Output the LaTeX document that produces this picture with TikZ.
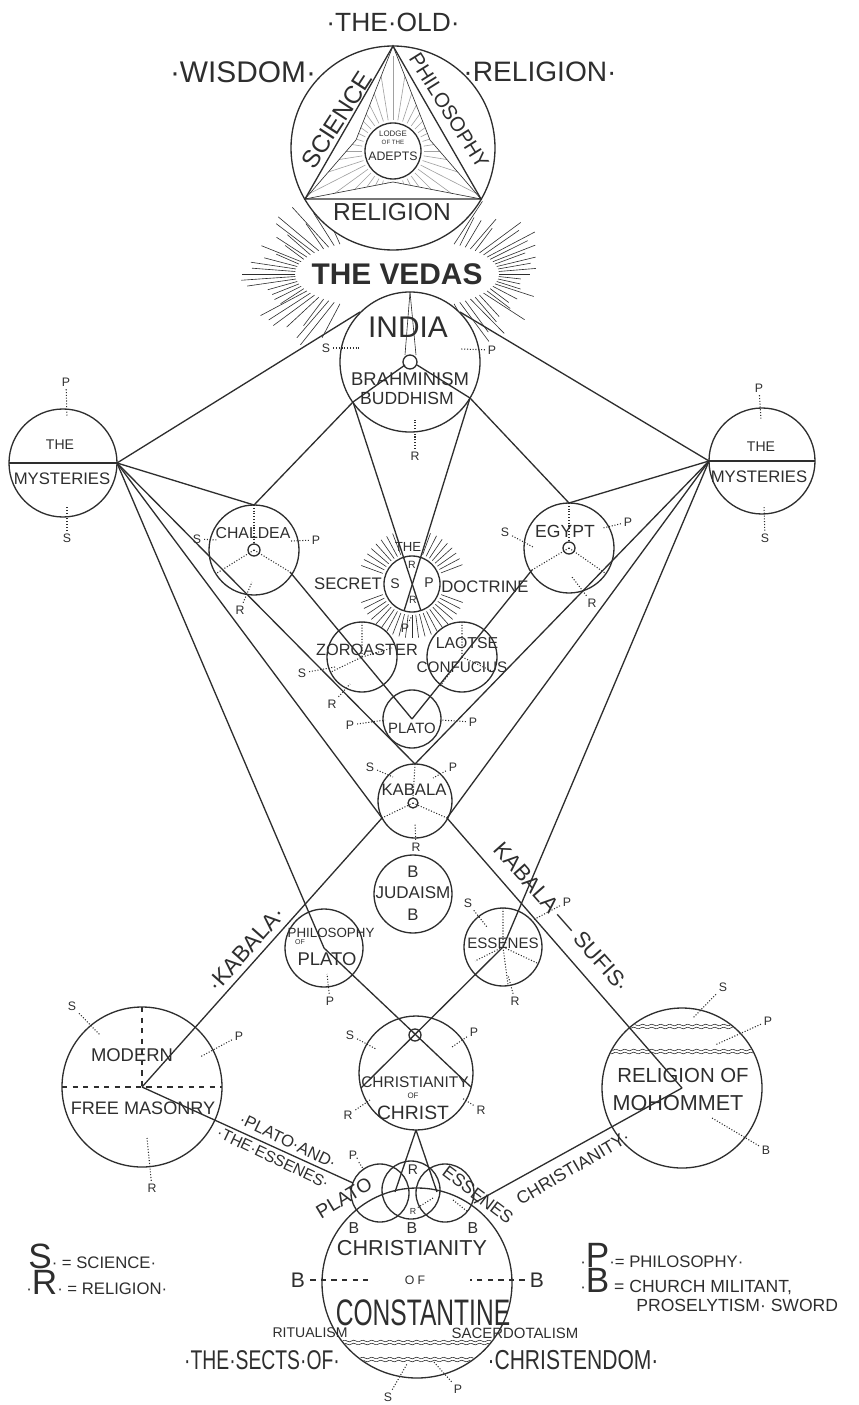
\documentclass[tikz,border=0pt]{standalone}
\usepackage{fontspec}
\setmainfont{Liberation Sans}
\usetikzlibrary{calc}
\definecolor{ink}{gray}{0.18}
\newcommand{\fs}[1]{\fontsize{#1}{#1}\selectfont}
% S/P/R mark with a dotted lead into its circle
\newcommand{\spr}[4]{\node[tag] (#1) at (#3) {#2}; \coordinate (#1-e) at (#4); \draw[dots] (#1) -- (#1-e);}
\tikzset{
  ln/.style={draw=ink, line width=0.75pt},
  hair/.style={draw=ink, line width=0.35pt},
  dots/.style={draw=ink, line width=0.6pt, densely dotted},
  dashln/.style={draw=ink, line width=0.6pt, dashed},
  lab/.style={text=ink, inner sep=0pt},
  tag/.style={text=ink, inner sep=1.5pt, font=\fs{7}},
}

\begin{document}
\begin{tikzpicture}[x=0.02cm, y=-0.02cm]
  \useasboundingbox (0,0) rectangle (858,1405);

  % --- centres ---
  \coordinate (old) at (393,148);
  \coordinate (adepts) at (393,151);
  \coordinate (vedas) at (397,274);
  \coordinate (india) at (410,362);
  \coordinate (myl) at (63,463);
  \coordinate (myr) at (762,461);
  \coordinate (chaldea) at (254,550);
  \coordinate (egypt) at (569,548);
  \coordinate (secret) at (412,584);
  \coordinate (zoro) at (362,657);
  \coordinate (laotse) at (462,657);
  \coordinate (plato) at (412,719);
  \coordinate (kabala) at (415,801);
  \coordinate (judaism) at (413,894);
  \coordinate (philo) at (324,948);
  \coordinate (essenes) at (503,947);
  \coordinate (christ) at (416,1073);
  \coordinate (ringl) at (380,1193);
  \coordinate (ringm) at (411,1190);
  \coordinate (ringr) at (445,1193);
  \coordinate (const) at (417,1283);
  \coordinate (mason) at (142,1087);
  \coordinate (moham) at (682,1088);

  % --- attach points ---
  \coordinate (myl-e) at (117,463);
  \coordinate (myr-w) at (709,461);
  \coordinate (india-ul) at (360,312);
  \coordinate (india-ur) at (460,312);
  \coordinate (india-ll) at (353,402);
  \coordinate (india-lr) at (470,398);
  \coordinate (india-top) at (410,292);
  \coordinate (chaldea-top) at (254,505);
  \coordinate (chaldea-lr) at (290,572);
  \coordinate (chaldea-ll) at (217,573);
  \coordinate (egypt-top) at (569,503);
  \coordinate (egypt-ll) at (532,570);
  \coordinate (egypt-lr) at (605,573);
  \coordinate (secret-bl) at (404,611);
  \coordinate (secret-br) at (421,611);
  \coordinate (kabala-top) at (415,764);
  \coordinate (kabala-ll) at (382,818);
  \coordinate (kabala-lr) at (447,818);
  \coordinate (cross) at (415,1035);
  \coordinate (christ-ll) at (361,1088);
  \coordinate (christ-lr) at (471,1087);
  \coordinate (christ-bot) at (416,1130);
  \coordinate (ringm-l) at (395,1192);
  \coordinate (ringm-r) at (437,1192);
  \coordinate (ringl-ul) at (353,1183);
  \coordinate (ringr-r) at (474,1203);

  % --- rays round the Vedas and the Secret Doctrine ---
  \pgfmathsetseed{7}
  \foreach \a in {-56,-52,...,56,124,128,...,236} {
    \pgfmathsetmacro{\k}{0.8+0.25*rnd}
    \draw[hair] ($(vedas)+(\a:102 and 36)$) -- ($(vedas)+(\a:{150*\k} and {86*\k})$);
  }
  \foreach \a in {20,27,...,160,200,207,...,250,290,297,...,340}
    \draw[hair] ($(secret)+(\a:31)$) -- ($(secret)+(\a:54)$);

  % --- Top: the old wisdom religion ---
  \filldraw[ln, fill=white] (old) circle[radius=102];
  \coordinate (tv) at (393,46);
  \coordinate (lv) at (305,199);
  \coordinate (rv) at (481,199);
  \coordinate (si1) at (356,140);
  \coordinate (si2) at (430,140);
  \coordinate (si3) at (393,182);
  \draw[ln] (tv) -- (lv) -- (rv) -- cycle;
  \begin{scope}
    \clip (tv) -- (si1) -- (lv) -- (si3) -- (rv) -- (si2) -- cycle;
    \foreach \a in {0,9,...,351}
      \draw[hair, ink!45] ($(adepts)+(\a:31)$) -- ($(adepts)+(\a:95)$);
  \end{scope}
  \draw[hair] (tv) -- (si1) -- (lv) -- (si3) -- (rv) -- (si2) -- cycle;
  \filldraw[ln, fill=white] (adepts) circle[radius=28];
  \node[lab, font=\fs{4.5}] (lodge) at (393,134) {LODGE};
  \node[lab, font=\fs{3.5}] (ofthe) at (393,142) {OF THE};
  \node[lab, font=\fs{7}] (adept) at (393,156) {ADEPTS};
  \node[lab, font=\fs{14}, rotate=57] (science) at (337,120) {SCIENCE};
  \node[lab, font=\fs{11.5}, rotate=-58] (philosophy) at (449,111) {PHILOSOPHY};
  \node[lab, font=\fs{14}] (religion) at (392,212) {RELIGION};
  \node[lab, font=\fs{15}] (theold) at (393,22) {·THE·OLD·};
  \node[lab, font=\fs{17}] (wisdom) at (243,72) {·WISDOM·};
  \node[lab, font=\fs{16}] (religion2) at (540,72) {·RELIGION·};
  \node[lab, font=\bfseries\fs{17}] (thevedas) at (397,274) {THE VEDAS};

  % --- India ---
  \filldraw[ln, fill=white] (india) circle[radius=70];
  \draw[ln] (india) circle[radius=7];
  \draw[hair] (india-top) -- (405,355);
  \draw[hair] (india-top) -- (416,355);
  \draw[ln] (405,365) -- (india-ll);
  \draw[ln] (417,365) -- (india-lr);
  \node[lab, font=\fs{17}] (indiat) at (408,327) {INDIA};
  \node[lab, font=\fs{10.5}] (brahm) at (410,379) {BRAHMINISM};
  \node[lab, font=\fs{10}] (buddh) at (407,398) {BUDDHISM};
  \spr{ind-s}{S}{326,348}{361,348}
  \spr{ind-p}{P}{492,350}{461,349}
  \spr{ind-r}{R}{415,456}{415,420}

  % --- The Mysteries ---
  \draw[ln] (myl) circle[radius=54];
  \draw[ln] (9,463) -- (myl-e);
  \node[lab, font=\fs{8}] (myl-the) at (60,445) {THE};
  \node[lab, font=\fs{9.5}] (myl-name) at (62,479) {MYSTERIES};
  \spr{myl-p}{P}{66,382}{67,417}
  \spr{myl-s}{S}{67,538}{67,507}
  \draw[ln] (myr) circle[radius=53];
  \draw[ln] (myr-w) -- (815,461);
  \node[lab, font=\fs{8}] (myr-the) at (761,447) {THE};
  \node[lab, font=\fs{9.5}] (myr-name) at (759,477) {MYSTERIES};
  \spr{myr-p}{P}{759,388}{761,420}
  \spr{myr-s}{S}{765,538}{764,506}

  % --- Chaldea and Egypt ---
  \draw[ln] (chaldea) circle[radius=45];
  \draw[ln] (chaldea) circle[radius=6];
  \draw[dots] (chaldea-top) -- (254,544);
  \draw[dots] (chaldea) -- (chaldea-ll);
  \draw[dots] (chaldea) -- (chaldea-lr);
  \node[lab, font=\fs{9}] (chaldea-t) at (253,533) {CHALDEA};
  \spr{chal-s}{S}{197,539}{218,540}
  \spr{chal-p}{P}{316,540}{291,541}
  \spr{chal-r}{R}{240,610}{252,582}
  \draw[ln] (egypt) circle[radius=45];
  \draw[ln] (egypt) circle[radius=6];
  \draw[dots] (egypt-top) -- (569,542);
  \draw[dots] (egypt) -- (egypt-ll);
  \draw[dots] (egypt) -- (egypt-lr);
  \node[lab, font=\fs{10}] (egypt-t) at (565,531) {EGYPT};
  \spr{egy-s}{S}{505,532}{533,547}
  \spr{egy-p}{P}{628,522}{603,528}
  \spr{egy-r}{R}{592,603}{572,577}

  % --- The Secret Doctrine ---
  \draw[ln] (secret) circle[radius=28];
  \node[lab, font=\fs{7.5}] (sd-the) at (408,547) {THE};
  \node[lab, font=\fs{9.5}] (sd-secret) at (348,584) {SECRET};
  \node[lab, font=\fs{9.5}] (sd-doctrine) at (485,587) {DOCTRINE};
  \node[tag, font=\fs{8}] (sd-s) at (395,584) {S};
  \node[tag, font=\fs{8}] (sd-p) at (429,583) {P};
  \node[tag, font=\fs{6}] (sd-r1) at (412,565) {R};
  \node[tag, font=\fs{6}] (sd-r2) at (413,600) {R};
  \spr{sd-pb}{P}{405,628}{412,616}

  % --- Zoroaster, Laotse, Plato ---
  \draw[ln] (zoro) circle[radius=35];
  \draw[dots] (362,622) -- (zoro) -- (331,672);
  \draw[dots] (zoro) -- (392,648);
  \node[lab, font=\fs{9.3}] (zoro-t) at (367,650) {ZOROASTER};
  \spr{zor-s}{S}{302,673}{335,667}
  \spr{zor-r}{R}{332,704}{350,684}
  \draw[ln] (laotse) circle[radius=35];
  \draw[dots] (462,622) -- (laotse) -- (440,686);
  \draw[dots] (laotse) -- (494,672);
  \node[lab, font=\fs{9}] (laotse-t) at (467,643) {LAOTSE};
  \node[lab, font=\fs{8.7}] (confucius-t) at (462,667) {CONFUCIUS};
  \draw[ln] (plato) circle[radius=29];
  \node[lab, font=\fs{8.5}] (plato-t) at (412,728) {PLATO};
  \spr{pla-pl}{P}{350,725}{385,720}
  \spr{pla-pr}{P}{473,722}{440,720}

  % --- Kabala and Judaism ---
  \draw[ln] (kabala) circle[radius=37];
  \draw[ln] (413,803) circle[radius=5];
  \draw[dots] (kabala-top) -- (413,798);
  \draw[dots] (413,803) -- (kabala-ll);
  \draw[dots] (413,803) -- (kabala-lr);
  \node[lab, font=\fs{9.5}] (kabala-t) at (414,790) {KABALA};
  \spr{kab-s}{S}{370,767}{393,777}
  \spr{kab-p}{P}{453,767}{433,778}
  \spr{kab-r}{R}{416,847}{415,823}
  \draw[ln] (judaism) circle[radius=39];
  \node[lab, font=\fs{9.5}] (jud-b1) at (413,872) {B};
  \node[lab, font=\fs{9.7}] (jud-t) at (413,893) {JUDAISM};
  \node[lab, font=\fs{9.5}] (jud-b2) at (413,915) {B};

  % --- Philosophy of Plato and the Essenes ---
  \draw[ln] (philo) circle[radius=39];
  \node[lab, font=\fs{7.6}] (philo-t1) at (331,933) {PHILOSOPHY};
  \node[lab, font=\fs{4}] (philo-t2) at (300,942) {OF};
  \node[lab, font=\fs{10.5}] (philo-t3) at (327,959) {PLATO};
  \spr{phi-p}{P}{330,1001}{327,974}
  \draw[ln] (essenes) circle[radius=39];
  \draw[dots] (503,908) -- (essenes) -- (475,961);
  \draw[dots] (essenes) -- (537,963);
  \draw[dots] (essenes) -- (508,985);
  \node[lab, font=\fs{8.6}] (essenes-t) at (503,943) {ESSENES};
  \spr{ess-s}{S}{468,903}{487,927}
  \spr{ess-p}{P}{567,902}{533,920}
  \spr{ess-r}{R}{515,1001}{508,975}

  % --- Christianity of Christ ---
  \draw[ln] (christ) circle[radius=57];
  \draw[ln] (cross) circle[radius=6];
  \node[lab, font=\fs{8.8}] (christ-t1) at (415,1082) {CHRISTIANITY};
  \node[lab, font=\fs{4.5}] (christ-t2) at (413,1096) {OF};
  \node[lab, font=\fs{11}] (christ-t3) at (413,1113) {CHRIST};
  \spr{chr-s}{S}{350,1035}{376,1049}
  \spr{chr-p}{P}{474,1032}{452,1047}
  \spr{chr-rl}{R}{348,1115}{370,1100}
  \spr{chr-rr}{R}{481,1110}{462,1098}

  % --- Modern Free Masonry ---
  \draw[ln] (mason) circle[radius=80];
  \draw[dashln] (62,1087) -- (222,1087);
  \draw[dashln] (142,1007) -- (mason);
  \node[lab, font=\fs{10.5}] (mason-t1) at (132,1055) {MODERN};
  \node[lab, font=\fs{10.3}] (mason-t2) at (143,1108) {FREE MASONRY};
  \spr{mas-s}{S}{72,1006}{100,1035}
  \spr{mas-p}{P}{239,1036}{200,1057}
  \spr{mas-r}{R}{152,1188}{147,1138}

  % --- Religion of Mohommet ---
  \draw[ln] (moham) circle[radius=80];
  \begin{scope}
    \clip (moham) circle[radius=79];
    \foreach \y in {1025,1028,1050,1053}
      \draw[hair] plot[domain=600:765, samples=90] (\x, {\y+0.8*sin(40*(\x-600))});
  \end{scope}
  \node[lab, font=\fs{11.6}] (moham-t1) at (683,1075) {RELIGION OF};
  \node[lab, font=\fs{12.3}] (moham-t2) at (678,1103) {MOHOMMET};
  \spr{moh-s}{S}{723,987}{693,1018}
  \spr{moh-p}{P}{768,1021}{715,1045}
  \spr{moh-b}{B}{766,1150}{712,1118}

  % --- three rings and Christianity of Constantine ---
  \draw[ln] (ringl) circle[radius=29];
  \draw[ln] (ringm) circle[radius=29];
  \draw[ln] (ringr) circle[radius=29];
  \draw[ln] (const) circle[radius=95];
  \draw[dots] (433,1198) -- (417,1208);
  \draw[dots] (453,1200) -- (468,1212);
  \node[tag, font=\fs{8}] (ring-r1) at (413,1170) {R};
  \node[tag, font=\fs{5}] (ring-r2) at (413,1211) {R};
  \spr{ring-p}{P.}{354,1155}{364,1170}
  \node[lab, font=\fs{9}] (ring-b1) at (354,1228) {B};
  \node[lab, font=\fs{9}] (ring-b2) at (412,1228) {B};
  \node[lab, font=\fs{9}] (ring-b3) at (473,1228) {B};
  \node[lab, font=\fs{11}, rotate=31] (ring-plato) at (344,1198) {PLATO};
  \node[lab, font=\fs{10}, rotate=-37] (ring-essenes) at (478,1195) {ESSENES};
  \begin{scope}
    \clip (const) circle[radius=94];
    \foreach \y in {1341,1344,1358,1361}
      \draw[hair] plot[domain=320:515, samples=100] (\x, {\y+0.8*sin(40*(\x-320))});
  \end{scope}
  \node[lab, font=\fs{12.3}] (const-t1) at (412,1248) {CHRISTIANITY};
  \node[lab, font=\fs{7}] (const-t2) at (415,1280) {O F};
  \node[lab, font=\fs{14}, yscale=1.5] (const-t3) at (423,1313) {CONSTANTINE};
  \node[lab, font=\fs{8}] (ritual) at (310,1333) {RITUALISM};
  \node[lab, font=\fs{8.5}] (sacerd) at (515,1333) {SACERDOTALISM};
  \node[lab, font=\fs{12}] (const-bl) at (298,1280) {B};
  \node[lab, font=\fs{12}] (const-br) at (537,1280) {B};
  \draw[dashln] (const-bl.east) ++(5,0) -- (372,1280);
  \draw[dashln] (const-br.west) ++(-5,0) -- (470,1280);
  \spr{con-s}{S}{388,1397}{407,1364}
  \spr{con-p}{P}{458,1389}{433,1361}
  \node[lab, font=\fs{11}, yscale=1.4] (sects) at (262,1360) {·THE·SECTS·OF·};
  \node[lab, font=\fs{12}, yscale=1.3] (christendom) at (573,1360) {·CHRISTENDOM·};

  % --- connectors ---
  \draw[ln] (myl-e) -- (india-ul);
  \draw[ln] (myr-w) -- (india-ur);
  \draw[ln] (myl-e) -- (chaldea-top);
  \draw[ln] (myr-w) -- (egypt-top);
  \draw[ln] (india-ll) -- (chaldea-top);
  \draw[ln] (india-lr) -- (egypt-top);
  \draw[ln] (india-ll) -- (secret-br);
  \draw[ln] (india-lr) -- (secret-bl);
  \draw[ln] (chaldea-lr) -- (plato);
  \draw[ln] (egypt-ll) -- (plato);
  \draw[ln] (myl-e) -- (kabala-top);
  \draw[ln] (myr-w) -- (kabala-top);
  \draw[ln] (myl-e) -- (kabala-ll) -- (mason);
  \draw[ln] (myr-w) -- (kabala-lr) -- (moham);
  \draw[ln] (myl-e) -- (philo) -- (christ-lr);
  \draw[ln] (myr-w) -- (essenes) -- (christ-ll);
  \draw[ln] (christ-bot) -- (ringm-l);
  \draw[ln] (christ-bot) -- (ringm-r);
  \draw[ln] (mason) -- (ringl-ul);
  \draw[ln] (ringr-r) -- (moham);

  % --- lettering along the lines ---
  \node[lab, font=\fs{13}, rotate=48.5] (kab-left) at (246,949) {·KABALA·};
  \node[lab, font=\fs{12.5}, rotate=-48.5] (kab-sufis) at (562,917) {KABALA — SUFIS·};
  \node[lab, font=\fs{9.5}, rotate=-25.5] (plato-and) at (288,1141) {·PLATO·AND·};
  \node[lab, font=\fs{9}, rotate=-25.5] (the-essenes) at (273,1158) {·THE·ESSENES·};
  \node[lab, font=\fs{10}, rotate=30.5] (christianity-r) at (573,1168) {CHRISTIANITY·};

  % --- key ---
  \node[lab, anchor=west] (key-s) at (28,1256) {\fs{20}S\fs{9.5}· = SCIENCE·};
  \node[lab, anchor=west] (key-r) at (26,1282) {\fs{9.5}·\fs{20}R\fs{9.5}· = RELIGION·};
  \node[lab, anchor=west] (key-p) at (580,1255) {\fs{9.5}·\fs{20}P\fs{9.5}·= PHILOSOPHY·};
  \node[lab, anchor=west] (key-b) at (580,1282) {\fs{9.5}·\fs{20}B\fs{10} = CHURCH MILITANT,};
  \node[lab, anchor=west] (key-b2) at (636,1305) {\fs{10}PROSELYTISM· SWORD};
\end{tikzpicture}
\end{document}
